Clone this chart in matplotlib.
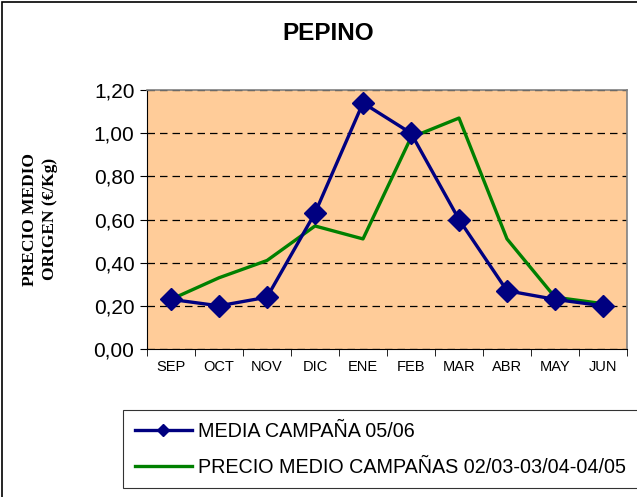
import numpy as np
import matplotlib.pyplot as plt
from matplotlib.patches import Rectangle

months = ["SEP", "OCT", "NOV", "DIC", "ENE", "FEB", "MAR", "ABR", "MAY", "JUN"]
media_0506 = [0.23, 0.20, 0.24, 0.63, 1.14, 1.00, 0.60, 0.27, 0.23, 0.20]
precio_medio = [0.23, 0.33, 0.41, 0.57, 0.51, 0.98, 1.07, 0.51, 0.24, 0.21]
yticks = [0.0, 0.2, 0.4, 0.6, 0.8, 1.0, 1.2]
ytick_labels = ["0,00", "0,20", "0,40", "0,60", "0,80", "1,00", "1,20"]

plt.rcParams['font.family'] = ['Liberation Sans', 'DejaVu Sans']

fig = plt.figure(figsize=(6.37, 4.97), dpi=100)
fig.patches.append(Rectangle((2 / 637, -0.1), 1.2, 1.1 - 2 / 497, transform=fig.transFigure,
                             fill=False, edgecolor="black", linewidth=1.2))

ax = fig.add_axes([147 / 637, 1 - 349 / 497, 480 / 637, 259 / 497])
ax.set_facecolor("#FFCC99")
x = np.arange(len(months))

ax.plot(x, precio_medio, color="#008000", linewidth=2.4, label="PRECIO MEDIO CAMPAÑAS 02/03-03/04-04/05", zorder=3)
ax.plot(x, media_0506, color="#000080", linewidth=2.4, marker="D", markersize=11,
        label="MEDIA CAMPAÑA 05/06", zorder=4)

ax.set_xlim(-0.5, len(months) - 0.5)
ax.set_ylim(0, 1.2)
ax.set_yticks(yticks)
ax.set_yticklabels(ytick_labels, fontsize=15)
ax.set_xticks(x)
ax.set_xticklabels(months, fontsize=10.5)
ax.set_xticks(np.arange(len(months) + 1) - 0.5, minor=True)
ax.tick_params(axis="x", which="major", length=0, pad=8)
ax.tick_params(axis="x", which="minor", length=5, direction="out")
ax.tick_params(axis="y", length=5, direction="out", pad=4)
ax.grid(axis="y", color="black", linestyle=(0, (6, 4)), linewidth=0.9)
ax.set_axisbelow(True)
for s in ["top", "right"]:
    ax.spines[s].set_color("#808080")
    ax.spines[s].set_linewidth(1.2)

fig.text(328 / 637, 1 - 33 / 497, "PEPINO", fontsize=17.5, fontweight="bold", ha="center", va="center")
fig.text(40 / 637, 1 - 219 / 497, "PRECIO MEDIO\nORIGEN (€/Kg)", rotation=90, ha="center", va="center",
         fontsize=12.5, fontweight="bold", family=["Liberation Serif", "DejaVu Serif"], linespacing=1.4)

handles, labels = ax.get_legend_handles_labels()
leg = fig.legend(handles[::-1], labels[::-1], loc="upper left", bbox_to_anchor=(123 / 637, 1 - 410 / 497),
                 fontsize=14.2, frameon=True, fancybox=False, edgecolor="black", borderaxespad=0,
                 handlelength=2.9, handletextpad=0.3, markerscale=0.6, borderpad=0.6, labelspacing=0.85)
leg.get_frame().set_linewidth(0.8)

fig.savefig("out.png", dpi=100)
